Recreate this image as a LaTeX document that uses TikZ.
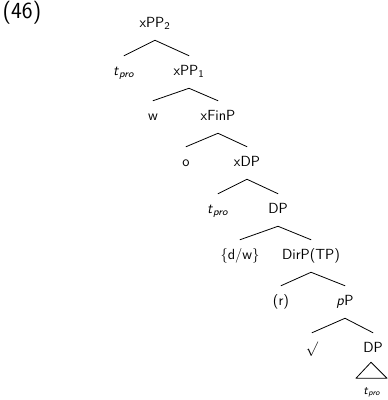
\documentclass[tikz,border=0pt]{standalone}
\usepackage{tikz}

\tikzset{
  lab/.style={font=\sffamily\fontsize{11}{13}\selectfont,inner xsep=1pt,inner ysep=0pt,
    text height=1.6ex,text depth=0.4ex,minimum height=24pt},
  branch/.style={line width=0.6pt,line cap=round}
}
\newcommand{\tpro}{\textit{t}\textsubscript{\textit{pro}}}

\begin{document}
\begin{tikzpicture}[x=0.75pt,y=-0.75pt,line join=round]
  \useasboundingbox (0,0) rectangle (388,400);
  \node[font=\sffamily\LARGE] (ex) at (22,13) {(46)};
  % spine of the tree
  \node[lab] (xPPtwo) at (155,24) {xPP\textsubscript{2}};
  \node[lab] (tA) at (124,72) {\tpro};
  \node[lab] (xPPone) at (189,72) {xPP\textsubscript{1}};
  \node[lab] (w) at (153,117) {w};
  \node[lab] (xFinP) at (218,117) {xFinP};
  \node[lab] (o) at (186,163) {o};
  \node[lab] (xDP) at (247,163) {xDP};
  \node[lab] (tB) at (218,210) {\tpro};
  \node[lab] (DPa) at (278,210) {DP};
  \node[lab] (dw) at (240,256) {\{d/w\}};
  \node[lab] (DirP) at (311,256) {DirP(TP)};
  \node[lab] (r) at (281,302) {(r)};
  \node[lab] (pP) at (345,302) {\textit{p}P};
  \node[lab] (root) at (312,349) {$\surd$};
  \node[lab] (DPb) at (373,349) {DP};
  \node[lab,font=\sffamily\small,minimum height=0pt] (tC) at (372,391) {\tpro};
  % branches
  \draw[branch] (tA.north) -- (xPPtwo.south) -- (xPPone.north);
  \draw[branch] (w.north) -- (xPPone.south) -- (xFinP.north);
  \draw[branch] (o.north) -- (xFinP.south) -- (xDP.north);
  \draw[branch] (tB.north) -- (xDP.south) -- (DPa.north);
  \draw[branch] (dw.north) -- (DPa.south) -- (DirP.north);
  \draw[branch] (r.north) -- (DirP.south) -- (pP.north);
  \draw[branch] (root.north) -- (pP.south) -- (DPb.north);
  % triangle over the trace
  \draw[branch] (DPb.south) ++(-2,-3) -- ++(-15,16) -- ++(31,0) -- cycle;
\end{tikzpicture}
\end{document}
